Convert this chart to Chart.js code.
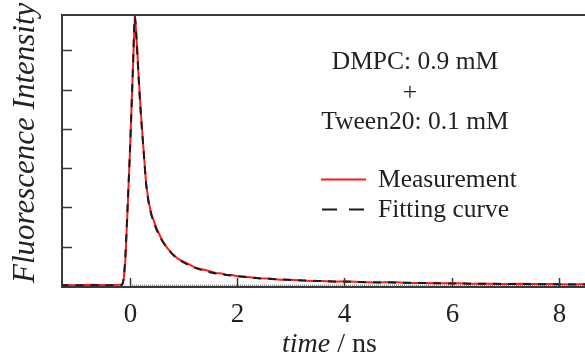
<!DOCTYPE html>
<html>
<head>
<meta charset="utf-8">
<script src="https://cdn.jsdelivr.net/npm/chart.js@4/dist/chart.umd.min.js"></script>
<style>
  body { margin: 0; background: #fff; }
  #wrap { width: 585px; height: 354px; }
</style>
</head>
<body>
<div id="wrap"><canvas id="decayChart" width="585" height="354"></canvas></div>
<script>
// Measured decay (time in ns, intensity in tick units)
const measTime = [-1.3, -1.0, -0.7, -0.4, -0.2, -0.15, -0.12, -0.09, -0.05, 0,
    0.05, 0.09, 0.12, 0.16, 0.2, 0.25, 0.3, 0.35, 0.4, 0.5,
    0.6, 0.7, 0.8, 0.9, 1.0, 1.1, 1.2, 1.3, 1.4, 1.5,
    1.6, 1.7, 1.8, 1.9, 2.0, 2.2, 2.4, 2.6, 2.8, 3.0,
    3.2, 3.4, 3.6, 3.8, 4.0, 4.3, 4.6, 4.9, 5.2, 5.5,
    5.8, 6.1, 6.4, 6.7, 7.0, 7.3, 7.6, 7.9, 8.2, 8.5];
const measValue = [0.03, 0.02, 0.03, 0.02, 0.03, 0.04, 0.15, 0.6, 1.8, 3.5,
    5.4, 6.9, 6.35, 5.35, 4.45, 3.5, 2.6, 2.12, 1.82, 1.45,
    1.16, 0.96, 0.8, 0.69, 0.62, 0.55, 0.48, 0.44, 0.41, 0.37,
    0.33, 0.32, 0.29, 0.28, 0.25, 0.23, 0.2, 0.19, 0.16, 0.16,
    0.14, 0.13, 0.13, 0.11, 0.12, 0.1, 0.09, 0.1, 0.08, 0.08,
    0.07, 0.07, 0.06, 0.06, 0.05, 0.06, 0.05, 0.05, 0.04, 0.05];

// Fitted curve
const fitTime = [-1.3, -0.15, -0.12, -0.09, -0.05, 0, 0.05, 0.09, 0.12, 0.16,
    0.2, 0.25, 0.3, 0.35, 0.4, 0.5, 0.6, 0.7, 0.8, 0.9,
    1.0, 1.2, 1.4, 1.6, 1.8, 2.0, 2.3, 2.6, 3.0, 3.5,
    4.0, 4.5, 5.0, 5.5, 6.0, 6.5, 7.0, 7.5, 8.0, 8.5];
const fitValue = [0.02, 0.02, 0.2, 0.7, 1.9, 3.5, 5.4, 6.85, 6.3, 5.3,
    4.4, 3.5, 2.6, 2.1, 1.8, 1.42, 1.15, 0.95, 0.8, 0.68,
    0.6, 0.47, 0.38, 0.32, 0.28, 0.25, 0.21, 0.18, 0.155, 0.13,
    0.11, 0.095, 0.085, 0.075, 0.065, 0.058, 0.052, 0.047, 0.043, 0.04];

// Zero reference line
const zeroTime = [0, 8.5];
const zeroValue = [0, 0];

const xTicks = [0, 2, 4, 6, 8];
const yTicks = [1, 2, 3, 4, 5, 6];
const sampleText = ['DMPC: 0.9 mM', '+', 'Tween20: 0.1 mM'];

const SERIF = '"Liberation Serif", "Times New Roman", serif';

function toPoints(xs, ys) {
    return xs.map((x, i) => ({ x: x, y: ys[i] }));
}

// Frame, inward ticks, labels, titles and the in-plot legend
const framePlugin = {
    id: 'frame',
    afterDraw(chart) {
        const ctx = chart.ctx;
        const area = chart.chartArea;
        const xs = chart.scales.x;
        const ys = chart.scales.y;
        ctx.save();
        ctx.strokeStyle = '#3a3a3a';
        ctx.lineWidth = 2;
        ctx.beginPath();
        ctx.moveTo(area.right, area.top);
        ctx.lineTo(area.left, area.top);
        ctx.lineTo(area.left, area.bottom);
        ctx.lineTo(area.right, area.bottom);
        ctx.stroke();

        // x ticks (inward) and labels
        ctx.lineWidth = 1.5;
        ctx.fillStyle = '#222';
        ctx.font = '27px ' + SERIF;
        ctx.textAlign = 'center';
        ctx.textBaseline = 'alphabetic';
        xTicks.forEach(v => {
            const px = Math.round(xs.getPixelForValue(v)) + 0.5;
            ctx.beginPath();
            ctx.moveTo(px, area.bottom);
            ctx.lineTo(px, area.bottom - 9);
            ctx.stroke();
            ctx.fillText(String(v), px, 322);
        });

        // y ticks (inward), no labels
        yTicks.forEach(v => {
            const py = Math.round(ys.getPixelForValue(v)) + 0.5;
            ctx.beginPath();
            ctx.moveTo(area.left, py);
            ctx.lineTo(area.left + 10, py);
            ctx.stroke();
        });

        // x title: italic "time" + " / ns"
        ctx.textAlign = 'left';
        ctx.font = 'italic 28px ' + SERIF;
        const part1 = 'time';
        ctx.fillText(part1, 282, 352);
        const w1 = ctx.measureText(part1).width;
        ctx.font = '28px ' + SERIF;
        ctx.fillText(' / ns', 282 + w1, 352);

        // y title
        ctx.save();
        ctx.translate(34, 283);
        ctx.rotate(-Math.PI / 2);
        ctx.font = 'italic 31px ' + SERIF;
        ctx.textAlign = 'left';
        ctx.fillText('Fluorescence Intensity', 0, 0);
        ctx.restore();

        // sample annotation
        ctx.font = '25.5px ' + SERIF;
        ctx.textAlign = 'center';
        ctx.fillText(sampleText[0], 415, 69);
        ctx.fillText(sampleText[1], 410, 100);
        ctx.fillText(sampleText[2], 415, 129);

        // legend
        const ds = chart.data.datasets;
        ctx.textAlign = 'left';
        ctx.lineWidth = 2;
        ctx.strokeStyle = ds[0].borderColor;
        ctx.beginPath();
        ctx.moveTo(321, 179.5);
        ctx.lineTo(366, 179.5);
        ctx.stroke();
        ctx.fillText(ds[0].label, 378, 187);

        ctx.strokeStyle = ds[1].borderColor;
        ctx.setLineDash([15, 12]);
        ctx.beginPath();
        ctx.moveTo(322, 209.5);
        ctx.lineTo(365, 209.5);
        ctx.stroke();
        ctx.setLineDash([]);
        ctx.fillText(ds[1].label, 378, 217);
        ctx.restore();
    }
};

const chart = new Chart(document.getElementById('decayChart').getContext('2d'), {
    type: 'line',
    data: {
        datasets: [{
            label: 'Measurement',
            data: toPoints(measTime, measValue),
            borderColor: '#ff1a1a',
            borderWidth: 2,
            pointRadius: 0,
            order: 2
        }, {
            label: 'Fitting curve',
            data: toPoints(fitTime, fitValue),
            borderColor: '#1a1a1a',
            borderWidth: 2,
            borderDash: [8, 7],
            pointRadius: 0,
            cubicInterpolationMode: 'monotone',
            order: 1
        }, {
            label: 'zero',
            data: toPoints(zeroTime, zeroValue),
            borderColor: '#8a8a8a',
            borderWidth: 3,
            borderDash: [1, 1],
            pointRadius: 0,
            order: 3
        }]
    },
    options: {
        responsive: false,
        animation: false,
        layout: { padding: { left: 62, top: 15, right: 0, bottom: 67 } },
        plugins: {
            legend: { display: false },
            tooltip: { enabled: false }
        },
        scales: {
            x: { type: 'linear', min: -1.27, max: 8.49, display: false },
            y: { type: 'linear', min: -0.025, max: 6.9, display: false }
        }
    },
    plugins: [framePlugin]
});
</script>
</body>
</html>
